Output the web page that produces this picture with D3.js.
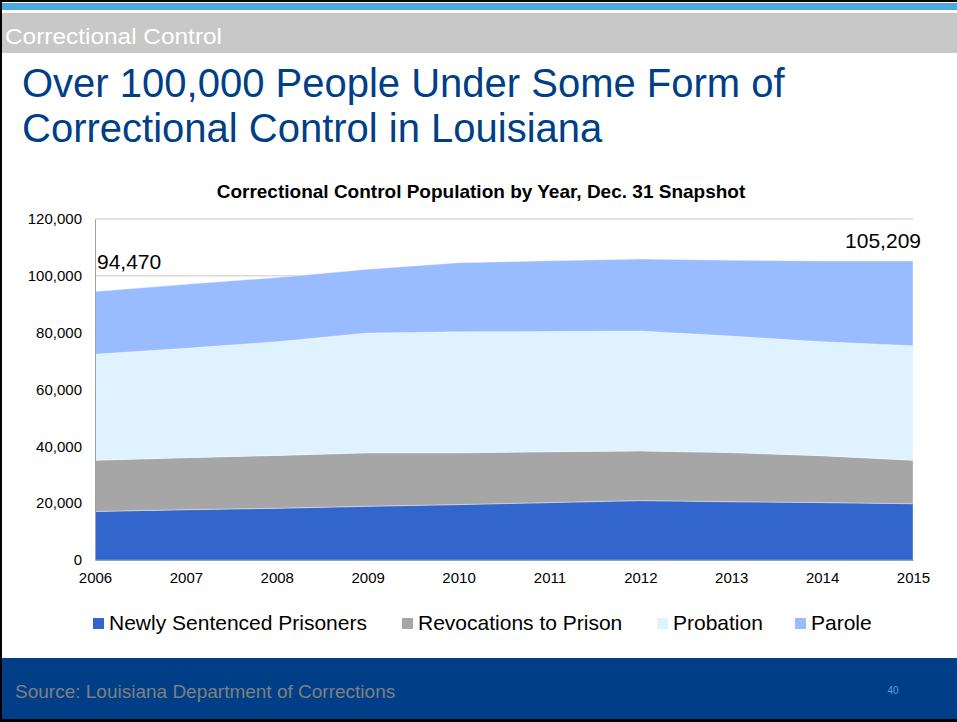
<!DOCTYPE html>
<html><head><meta charset="utf-8">
<script src="https://cdn.jsdelivr.net/npm/d3@7"></script>
<style>html,body{margin:0;padding:0;background:#000;}svg{display:block;font-family:Arial,"Liberation Sans",sans-serif;}</style>
</head><body>
<svg id="c" width="957" height="722"></svg>
<script>
const years = [2006, 2007, 2008, 2009, 2010, 2011, 2012, 2013, 2014, 2015];
const newlySentenced = [17100, 17700, 18200, 18900, 19500, 20200, 20900, 20500, 20200, 19800];
const revocations = [18000, 18300, 18600, 18800, 18200, 17900, 17500, 17300, 16500, 15300];
const probation = [37300, 38500, 40000, 42200, 42600, 42300, 42200, 41000, 40100, 40300];
const parole = [22070, 22500, 22600, 22400, 24300, 24900, 25300, 26700, 28400, 29809];
const seriesNames = ["Newly Sentenced Prisoners", "Revocations to Prison", "Probation", "Parole"];
const seriesColors = ["#3366CC", "#A6A6A6", "#DEF2FF", "#99BBFF"];
const yTicks = [0, 20000, 40000, 60000, 80000, 100000, 120000];
const endLabels = ["94,470", "105,209"];

const svg = d3.select("#c");
const W = 957, H = 722;
svg.append("rect").attr("width", W).attr("height", H).attr("fill", "#000");
svg.append("rect").attr("x", 2).attr("y", 2).attr("width", W - 2).attr("height", 717).attr("fill", "#fff");
svg.append("rect").attr("x", 2).attr("y", 3).attr("width", W - 2).attr("height", 7).attr("fill", "#4BA9E1");
svg.append("rect").attr("x", 2).attr("y", 13).attr("width", W - 2).attr("height", 40).attr("fill", "#C8C8C8");
svg.append("text").attr("x", 5).attr("y", 44).attr("font-size", 22).attr("fill", "#fff")
  .attr("textLength", 217).attr("lengthAdjust", "spacingAndGlyphs").text("Correctional Control");

svg.append("text").attr("x", 22).attr("y", 97).attr("font-size", 40).attr("fill", "#003F87").text("Over 100,000 People Under Some Form of");
svg.append("text").attr("x", 22).attr("y", 142).attr("font-size", 40).attr("fill", "#003F87").text("Correctional Control in Louisiana");

svg.append("text").attr("x", 481).attr("y", 198).attr("text-anchor", "middle").attr("font-size", 19).attr("font-weight", "bold").attr("fill", "#000")
  .text("Correctional Control Population by Year, Dec. 31 Snapshot");

const x = d3.scaleLinear().domain([years[0], years[years.length - 1]]).range([95, 913]);
const y = d3.scaleLinear().domain([0, 120000]).range([560, 219]);

// gridlines
svg.append("g").selectAll("line").data(yTicks.slice(1)).join("line")
  .attr("x1", 95).attr("x2", 913).attr("y1", d => y(d)).attr("y2", d => y(d))
  .attr("stroke", "#C6C6C6").attr("stroke-width", 1);

const table = years.map((yr, i) => ({year: yr, s0: newlySentenced[i], s1: revocations[i], s2: probation[i], s3: parole[i]}));
const stack = d3.stack().keys(["s0", "s1", "s2", "s3"]);
const layers = stack(table);
const area = d3.area().x(d => x(d.data.year)).y0(d => y(d[0])).y1(d => y(d[1]));
svg.append("g").selectAll("path").data(layers).join("path")
  .attr("d", area).attr("fill", (d, i) => seriesColors[i])
  .attr("stroke", "#ffffff").attr("stroke-opacity", 0.6).attr("stroke-width", 0.6);

// axes
const yAxis = d3.axisLeft(y).tickValues(yTicks).tickSize(0).tickPadding(13).tickFormat(d3.format(","));
const gy = svg.append("g").attr("transform", "translate(95,0)").call(yAxis);
gy.select(".domain").attr("stroke", "#A0A0A0");
gy.selectAll("text").attr("font-size", 15).attr("fill", "#000").attr("font-family", "Arial, 'Liberation Sans', sans-serif");

const xAxis = d3.axisBottom(x).tickValues(years).tickSize(0).tickPadding(12).tickFormat(d3.format("d"));
const gx = svg.append("g").attr("transform", "translate(0,560)").call(xAxis);
gx.select(".domain").attr("stroke", "#A0A0A0");
gx.selectAll("text").attr("font-size", 15).attr("fill", "#000").attr("font-family", "Arial, 'Liberation Sans', sans-serif");

// end labels
const total = i => newlySentenced[i] + revocations[i] + probation[i] + parole[i];
svg.append("text").attr("x", x(years[0]) + 2).attr("y", y(total(0)) - 23).attr("font-size", 21).attr("fill", "#000").text(endLabels[0]);
svg.append("text").attr("x", x(years[9]) + 8).attr("y", y(total(9)) - 13).attr("text-anchor", "end").attr("font-size", 21).attr("fill", "#000").text(endLabels[1]);

// legend
const legendX = [93, 402, 657, 795];
const lg = svg.append("g");
seriesNames.forEach((n, i) => {
  lg.append("rect").attr("x", legendX[i]).attr("y", 618).attr("width", 11).attr("height", 11).attr("fill", seriesColors[i]);
  lg.append("text").attr("x", legendX[i] + 16).attr("y", 630).attr("font-size", 21).attr("fill", "#000").text(n);
});

// footer
svg.append("rect").attr("x", 2).attr("y", 658).attr("width", W - 2).attr("height", 61).attr("fill", "#003F87");
svg.append("text").attr("x", 15).attr("y", 698).attr("font-size", 19).attr("fill", "#7F7F7F").text("Source: Louisiana Department of Corrections");
svg.append("text").attr("x", 893).attr("y", 694).attr("text-anchor", "middle").attr("font-size", 10).attr("fill", "#4FA3DF").text("40");
</script>
</body></html>
